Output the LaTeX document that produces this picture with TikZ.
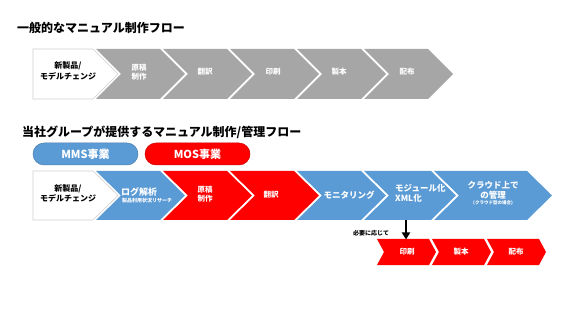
\documentclass[tikz,border=0pt]{standalone}
\usepackage{fontspec}
\setmainfont{Noto Sans CJK JP}
\usetikzlibrary{arrows.meta}
\definecolor{mgray}{HTML}{A6A6A6}
\definecolor{mblue}{HTML}{5B9BD5}
\definecolor{mred}{HTML}{FF0000}
\definecolor{mline}{HTML}{D0D0D0}
% chevron: x-left, y-top, width to top-right corner, height, tip depth, style
\newcommand\chevshape[6]{%
  \path[#6] (#1,#2) -- ++(#3,0) -- ++(#5,#4/2) -- ++(-#5,#4/2) -- ++(-#3,0) -- ++(#5,-#4/2) -- cycle;}
\newcommand\startshape[6]{%
  \path[#6] (#1,#2) -- ++(#3,0) -- ++(#5,#4/2) -- ++(-#5,#4/2) -- ++(-#3,0) -- cycle;}
\begin{document}
\begin{tikzpicture}[x=1pt,y=-1pt,
  title/.style={font=\bfseries\fontsize{12}{14}\selectfont, anchor=west, inner sep=0},
  blk/.style={font=\bfseries\fontsize{8}{10.5}\selectfont, align=center, inner sep=0, text=black},
  lbl/.style={font=\bfseries\fontsize{7.5}{9.5}\selectfont, align=center, inner sep=0, text=white},
  blbl/.style={font=\bfseries\fontsize{8.5}{10}\selectfont, align=center, inner sep=0, text=white},
  pill/.style={rounded corners=11pt},
  pilltxt/.style={font=\bfseries\fontsize{11}{13}\selectfont, text=white, inner sep=0},
  note/.style={font=\bfseries\fontsize{6}{7}\selectfont, inner sep=0},
]
\useasboundingbox (0,0) rectangle (565,315);

% ---------- titles ----------
\node[title] (t1) at (17,28) {一般的なマニュアル制作フロー};
\node[title] (t2) at (22,132) {当社グループが提供するマニュアル制作/管理フロー};

% ---------- top flow ----------
\startshape{33}{49}{60}{50}{25}{fill=white, draw=mline, line width=0.6pt}
\chevshape{96}{49}{64}{50}{25}{fill=mgray}
\chevshape{163}{49}{64}{50}{25}{fill=mgray}
\chevshape{230}{49}{64}{50}{25}{fill=mgray}
\chevshape{297}{49}{64}{50}{25}{fill=mgray}
\chevshape{364}{49}{64}{50}{25}{fill=mgray}
\node[blk] (a0) at (68,71) {新製品/\\モデルチェンジ};
\node[lbl] (a1) at (139,72) {原稿\\制作};
\node[lbl] (a2) at (205,72) {翻訳};
\node[lbl] (a3) at (273,72) {印刷};
\node[lbl] (a4) at (339,72) {製本};
\node[lbl] (a5) at (407,72) {配布};

% ---------- pills ----------
\path[pill, fill=mblue, draw=mblue!80!black, line width=0.5pt] (33,143) rectangle (138,165);
\path[pill, fill=mred, draw=mred!80!black, line width=0.5pt] (145,143) rectangle (250,165);
\node[pilltxt] (mms) at (85.5,154) {MMS事業};
\node[pilltxt] (mos) at (197.5,154) {MOS事業};

% ---------- bottom flow ----------
\startshape{33}{171}{60}{49}{25}{fill=white, draw=mline, line width=0.6pt}
\chevshape{96}{171}{64}{49}{25}{fill=mblue}
\chevshape{163}{171}{64}{49}{25}{fill=mred}
\chevshape{230}{171}{64}{49}{25}{fill=mred}
\chevshape{297}{171}{64}{49}{25}{fill=mblue}
\chevshape{364}{171}{67}{49}{25}{fill=mblue}
\chevshape{434}{171}{93}{49}{25}{fill=mblue}
\node[blk] (b0) at (68,193.5) {新製品/\\モデルチェンジ};
\node[font=\bfseries\fontsize{9}{10}\selectfont, text=white, anchor=west, inner sep=0] (b1) at (121,191.5) {ログ解析};
\node[font=\bfseries\fontsize{5}{6}\selectfont, text=white, anchor=west, inner sep=0] (b1s) at (122,201) {製品利用状況リサーチ};
\node[lbl] (b2) at (205,194) {原稿\\制作};
\node[lbl] (b3) at (271,195) {翻訳};
\node[blbl] (b4) at (349,195) {モニタリング};
\node[blbl, align=left, anchor=west] (b5) at (395,193.5) {モジュール化\\XML化};
\node[blbl] (b6) at (493,190.5) {クラウド上で\\の管理};
\node[font=\bfseries\fontsize{4.5}{5}\selectfont, text=white, inner sep=0] (b6s) at (493,203) {(クラウド型の場合)};

% ---------- optional row ----------
\chevshape{377}{239}{52}{26}{7}{fill=mred}
\chevshape{432}{239}{52}{26}{7}{fill=mred}
\chevshape{487}{239}{52}{26}{7}{fill=mred}
\node[lbl] (c1) at (407,252) {印刷};
\node[lbl] (c2) at (461,252) {製本};
\node[lbl] (c3) at (516,252) {配布};

\coordinate (modbot) at (406,220);
\coordinate (prttop) at (406,239.5);
\draw[line width=1.8pt, -{Triangle[width=8pt,length=7pt]}] (modbot) -- (prttop);
\node[note] (n1) at (371,233) {必要に応じて};
\end{tikzpicture}
\end{document}
